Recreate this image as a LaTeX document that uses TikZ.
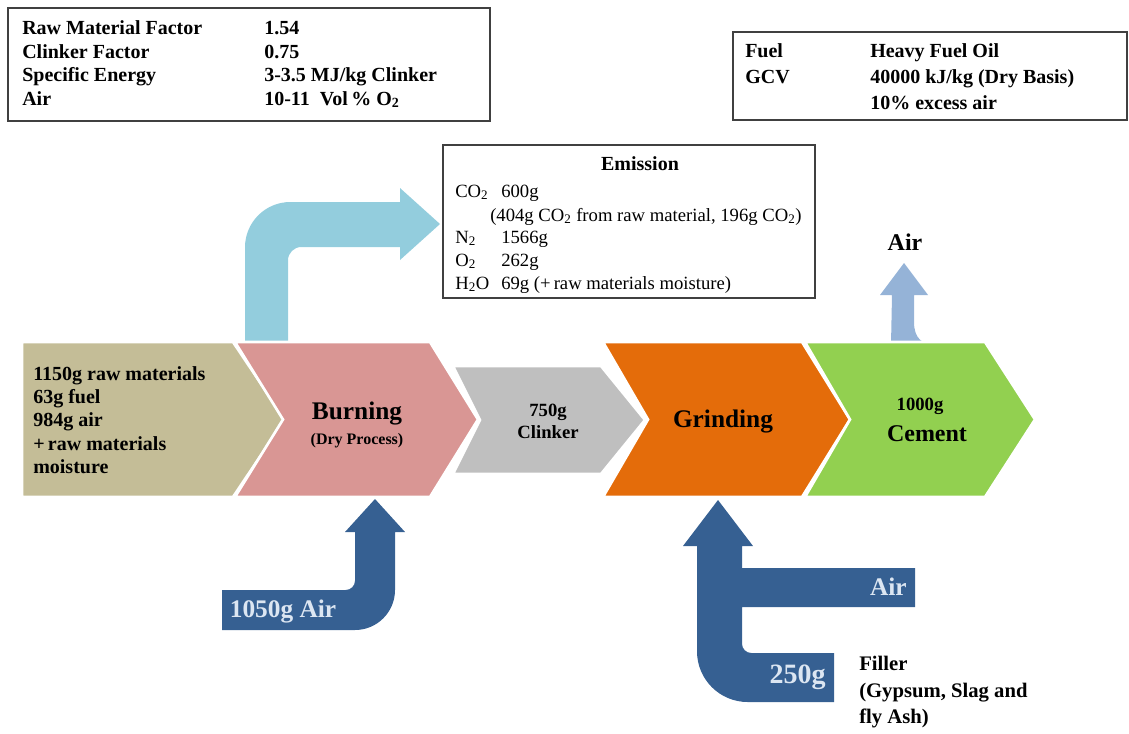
\documentclass[tikz,border=0pt]{standalone}
\usepackage{fontspec}
\setmainfont{Liberation Serif}
\usepackage{tikz}
\usetikzlibrary{calc,positioning}
\definecolor{CemTan}{RGB}{196,189,151}
\definecolor{CemPink}{RGB}{217,150,148}
\definecolor{CemGrey}{RGB}{191,191,191}
\definecolor{CemOrange}{RGB}{228,108,10}
\definecolor{CemGreen}{RGB}{146,208,80}
\definecolor{CemSky}{RGB}{147,205,221}
\definecolor{CemSteel}{RGB}{149,179,215}
\definecolor{CemNavy}{RGB}{54,96,146}
\definecolor{CemPale}{RGB}{220,230,242}
\definecolor{CemFrame}{RGB}{64,64,64}

\begin{document}
\begin{tikzpicture}[x=0.75pt,y=-0.75pt,
  infobox/.style={draw=CemFrame,line width=0.9pt},
  keytxt/.style={font=\bfseries\fontsize{15}{17}\selectfont,anchor=base west,inner sep=0pt},
  gastxt/.style={font=\fontsize{14}{16}\selectfont,anchor=base west,inner sep=0pt},
  stagetxt/.style={font=\bfseries\fontsize{14}{16.5}\selectfont,align=center,inner sep=0pt},
  bigtxt/.style={font=\bfseries\fontsize{19}{21}\selectfont,inner sep=0pt},
  flowtxt/.style={font=\bfseries\fontsize{19}{21}\selectfont,text=CemPale,inner sep=0pt}]
  \useasboundingbox (0,0) rectangle (1129,733);

  \draw[infobox] (8,8) rectangle (490,121);
  \foreach \y/\k/\v [count=\i] in {34/{Raw Material Factor}/{1.54},
    58/{Clinker Factor}/{0.75},
    81/{Specific Energy}/{3-3.5 MJ/kg Clinker},
    105/{Air}/{10-11\ \ Vol\,\% O\textsubscript{2}}} {
    \node[keytxt] (kilnkey\i) at (22,\y) {\k};
    \node[keytxt] (kilnval\i) at (264,\y) {\v};
  }

  \draw[infobox] (733,32) rectangle (1127,120);
  \foreach \y/\k/\v [count=\i] in {57/{Fuel}/{Heavy Fuel Oil},
    83/{GCV}/{40000 kJ/kg (Dry Basis)},
    109/{}/{10\% excess air}} {
    \node[keytxt] (fuelkey\i) at (745,\y) {\k};
    \node[keytxt] (fuelval\i) at (870,\y) {\v};
  }

  \draw[infobox] (443,145) rectangle (815,298);
  \node[keytxt,anchor=base,font=\bfseries\fontsize{15}{17}\selectfont] (emis) at (640,170) {Emission};
  \foreach \y/\k/\v [count=\i] in {197/{CO\textsubscript{2}}/{600g},
    243/{N\textsubscript{2}}/{1566g},
    266/{O\textsubscript{2}}/{262g},
    289/{H\textsubscript{2}O}/{69g (+\,raw materials moisture)}} {
    \node[gastxt] (gaskey\i) at (455,\y) {\k};
    \node[gastxt] (gasval\i) at (501,\y) {\v};
  }
  \node[gastxt] (gasnote) at (490,221) {(404g CO\textsubscript{2} from raw material, 196g CO\textsubscript{2})};

  \fill[CemSky] (245,345) [rounded corners=34pt] -- (245,202) [sharp corners] -- (400,202) -- (400,188)
    -- (440,224) -- (400,260) -- (400,247) [rounded corners=10pt] -- (288,247) [sharp corners] -- (288,345) -- cycle;
  \fill[CemSteel] (891,345) -- (892,295) -- (880,295) -- (904,263) -- (928,295) -- (914,295) -- (914,322)
    .. controls (914,338) and (922,345) .. (936,345) -- cycle;
  \fill[CemNavy] (222,590) [rounded corners=7pt] -- (355,590) [sharp corners] -- (355,532) -- (345,532)
    -- (375,499) -- (405,532) -- (395,532) [rounded corners=30pt] -- (395,630) [sharp corners] -- (222,630) -- cycle;
  \fill[CemNavy] (834,653) [rounded corners=7pt] -- (742,653) [sharp corners] -- (742,607) -- (915,607)
    -- (915,568) -- (742,568) -- (742,546) -- (753,546) -- (718,500) -- (683,546) -- (697,546)
    [rounded corners=38pt] -- (697,702) [sharp corners] -- (834,702) -- cycle;

  \foreach \l/\r/\t/\b/\d/\n/\col in {22/285/342/497/52/0/CemTan,
    235/478/342/497/48/48/CemPink,
    453/645/366/474/44/27/CemGrey,
    603/850/342/497/48/45/CemOrange,
    805/1035/342/497/50/45/CemGreen} {
    \pgfmathsetmacro\m{(\t+\b)/2}
    \filldraw[fill=\col,draw=white,line width=2pt] (\l,\t) -- ({\r-\d},\t) -- (\r,\m) -- ({\r-\d},\b)
      -- (\l,\b) -- ({\l+\n},\m) -- cycle;
  }

  \node[stagetxt,align=left,anchor=west,font=\bfseries\fontsize{15}{17.5}\selectfont] (rawin) at (33,420)
    {1150g raw materials\\63g fuel\\984g air\\+\,raw materials\\moisture};
  \node[bigtxt] (burn) at (357,413) {Burning};
  \node[stagetxt,font=\bfseries\fontsize{12}{14}\selectfont,below=6pt of burn.south] (burnsub) {(Dry Process)};
  \node[stagetxt] (clinker) at (548,421) {750g\\Clinker};
  \node[bigtxt] (grind) at (723,421) {Grinding};
  \node[stagetxt] (cemmass) at (920,406) {1000g};
  \node[bigtxt,font=\bfseries\fontsize{18}{20}\selectfont] (cement) at (927,434) {Cement};

  \node[bigtxt,font=\bfseries\fontsize{18}{20}\selectfont] (airout) at (905,242) {Air};
  \node[flowtxt] (airburn) at (283,611) {1050g Air};
  \node[flowtxt,anchor=east] (airgrind) at (907,587) {Air};
  \node[flowtxt,anchor=east,font=\bfseries\fontsize{21}{23}\selectfont] (filler) at (826,677) {250g};
  \node[stagetxt,align=left,anchor=north west,font=\bfseries\fontsize{15.5}{20}\selectfont] (fillertxt) at (859,656)
    {Filler\\(Gypsum, Slag and\\fly Ash)};
\end{tikzpicture}
\end{document}
